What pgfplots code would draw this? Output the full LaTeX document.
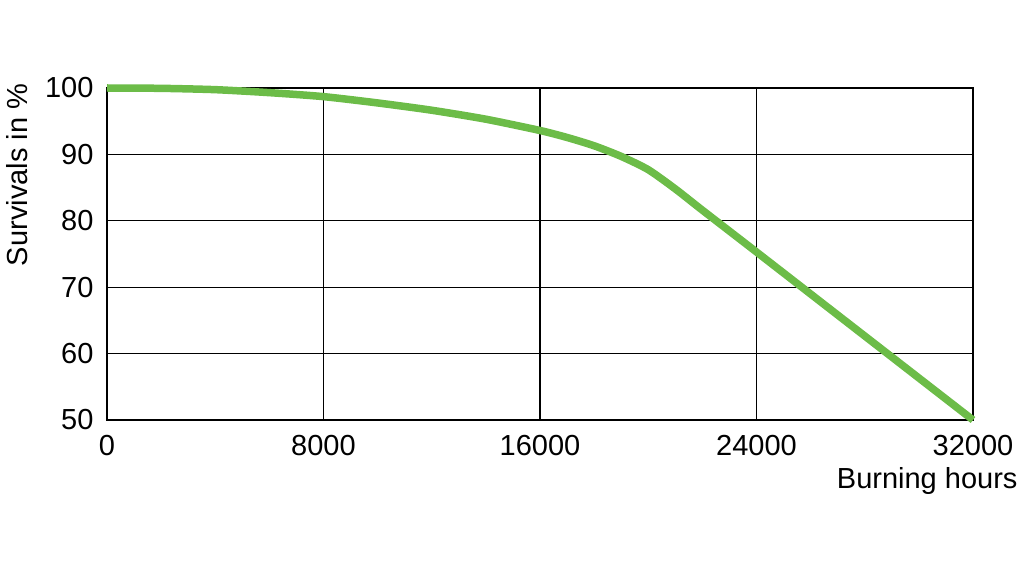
\documentclass[border=0pt]{standalone}
\usepackage{fontspec}
\setmainfont{Liberation Sans}
\usepackage{pgfplots}
\pgfplotsset{compat=1.18}
\definecolor{curvegreen}{RGB}{108,188,72}
\begin{document}
\begin{tikzpicture}[x=1pt,y=1pt]
\path[use as bounding box] (0,0) rectangle (1024,577);
\begin{axis}[
  at={(107pt,157pt)}, anchor=south west,
  scale only axis, width=866pt, height=332pt,
  xmin=0, xmax=32000, ymin=50, ymax=100,
  xtick={0,8000,16000,24000,32000},
  ytick={50,60,70,80,90,100},
  grid=major,
  major grid style={black, line width=1.1pt},
  axis line style={black, line width=2pt},
  major tick length=0pt,
  tick label style={font=\fontsize{29}{32}\selectfont},
  /pgf/number format/assume math mode=true,
  /pgf/number format/set thousands separator={},
  scaled x ticks=false,
  xticklabel style={yshift=-12pt},
  yticklabel style={xshift=-10pt},
  clip=false,
]
\addplot[curvegreen, line width=7.5pt, smooth, tension=0.4] coordinates {
(0,100) (2000,99.95) (4000,99.75) (6000,99.3) (8000,98.7) (10000,97.75)
(12000,96.65) (14000,95.3) (16000,93.6) (17000,92.55) (18000,91.3)
(19000,89.7) (20000,87.7) (21000,84.8) (22000,81.6) (24000,75.3)
(28000,62.65) (32000,50)
};
\end{axis}
\node[anchor=base east, font=\fontsize{29}{32}\selectfont] at (1021,88) {Burning hours};
\node[rotate=90, font=\fontsize{29}{32}\selectfont] at (17,402) {Survivals in \%};
\end{tikzpicture}
\end{document}
